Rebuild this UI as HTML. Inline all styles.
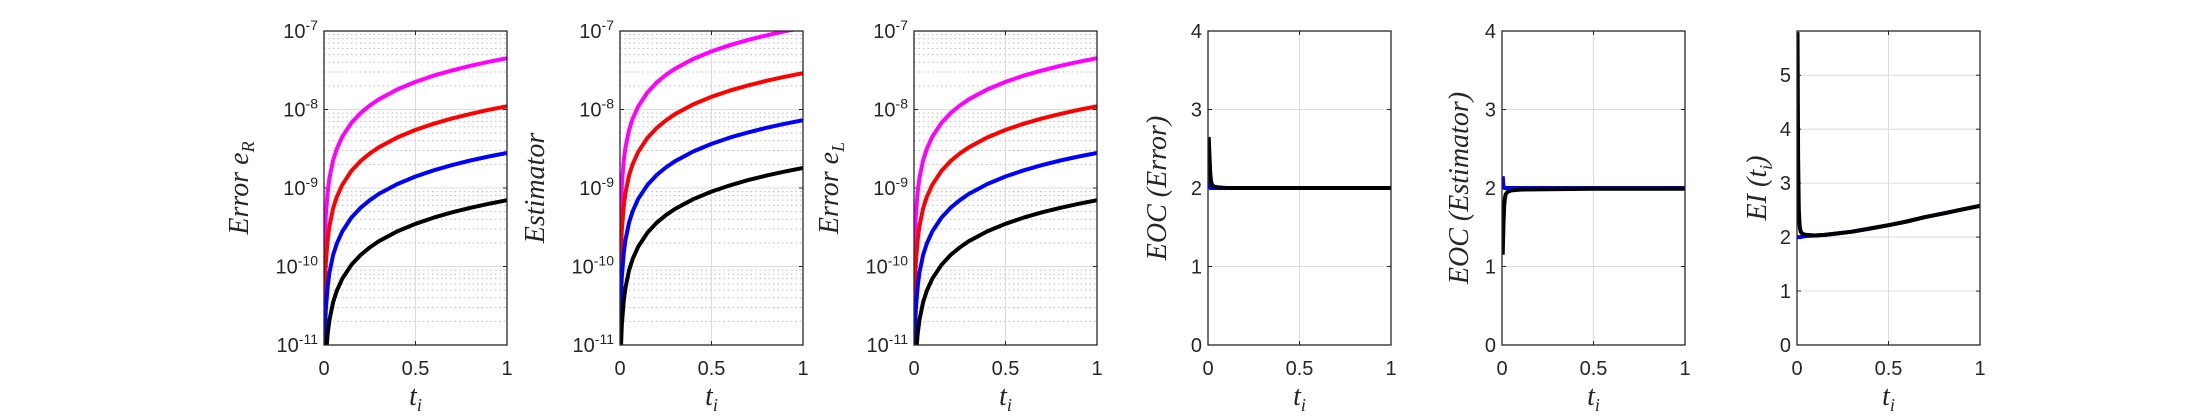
<!DOCTYPE html>
<html><head><meta charset="utf-8"><style>
html,body{margin:0;padding:0;background:#fff;}
svg{display:block;}
text{font-family:"Liberation Sans",Arial,sans-serif;fill:#262626;}
.lab{font-family:"Liberation Serif","DejaVu Serif",serif;font-style:italic;}
</style></head><body>
<svg id="fig" width="2187" height="417" xmlns="http://www.w3.org/2000/svg"></svg>
<script>
// ---- data ----
const tSamples = [0.002,0.005,0.01,0.02,0.03,0.05,0.07,0.1,0.15,0.2,0.25,0.3,0.4,0.5,0.6,0.7,0.8,0.9,1.0];
const seriesColors = ['#ff00ff','#ff0000','#0000ff','#000000'];
const errR = [
  [9e-11,2.25e-10,4.5e-10,9e-10,1.35e-9,2.25e-9,3.15e-9,4.5e-9,6.75e-9,9e-9,1.125e-8,1.35e-8,1.8e-8,2.25e-8,2.7e-8,3.15e-8,3.6e-8,4.05e-8,4.5e-8],
  [2.2e-11,5.5e-11,1.1e-10,2.2e-10,3.3e-10,5.5e-10,7.7e-10,1.1e-9,1.65e-9,2.2e-9,2.75e-9,3.3e-9,4.4e-9,5.5e-9,6.6e-9,7.7e-9,8.8e-9,9.9e-9,1.1e-8],
  [5.6e-12,1.4e-11,2.8e-11,5.6e-11,8.4e-11,1.4e-10,1.96e-10,2.8e-10,4.2e-10,5.6e-10,7e-10,8.4e-10,1.12e-9,1.4e-9,1.68e-9,1.96e-9,2.24e-9,2.52e-9,2.8e-9],
  [1.4e-12,3.5e-12,7e-12,1.4e-11,2.1e-11,3.5e-11,4.9e-11,7e-11,1.05e-10,1.4e-10,1.75e-10,2.1e-10,2.8e-10,3.5e-10,4.2e-10,4.9e-10,5.6e-10,6.3e-10,7e-10]];
const estim = [
  [2.2e-10,5.5e-10,1.1e-9,2.2e-9,3.3e-9,5.5e-9,7.7e-9,1.1e-8,1.65e-8,2.2e-8,2.75e-8,3.3e-8,4.4e-8,5.5e-8,6.6e-8,7.7e-8,8.8e-8,9.9e-8,1.1e-7],
  [5.8e-11,1.45e-10,2.9e-10,5.8e-10,8.7e-10,1.45e-9,2.03e-9,2.9e-9,4.35e-9,5.8e-9,7.25e-9,8.7e-9,1.16e-8,1.45e-8,1.74e-8,2.03e-8,2.32e-8,2.61e-8,2.9e-8],
  [1.46e-11,3.65e-11,7.3e-11,1.46e-10,2.19e-10,3.65e-10,5.11e-10,7.3e-10,1.095e-9,1.46e-9,1.825e-9,2.19e-9,2.92e-9,3.65e-9,4.38e-9,5.11e-9,5.84e-9,6.57e-9,7.3e-9],
  [3.6e-12,9e-12,1.8e-11,3.6e-11,5.4e-11,9e-11,1.26e-10,1.8e-10,2.7e-10,3.6e-10,4.5e-10,5.4e-10,7.2e-10,9e-10,1.08e-9,1.26e-9,1.44e-9,1.62e-9,1.8e-9]];
const errL = errR;
const eocT = [0.004,0.008,0.012,0.016,0.02,0.03,0.05,0.1,0.5,1.0];
const eocErrBlack = [2.65,2.4,2.2,2.1,2.05,2.02,2.01,2.0,2.0,2.0];
const eocErrBlue  = [2.15,2.03,2.0,2.0,2.0,2.0,2.0,2.0,2.0,2.0];
const eocEstBlack = [1.15,1.55,1.78,1.87,1.92,1.95,1.97,1.98,1.99,1.99];
const eocEstBlue  = [2.15,2.02,2.0,2.0,2.0,2.0,2.0,2.0,2.0,2.0];
const eiT = [0.003,0.006,0.01,0.015,0.02,0.03,0.05,0.1,0.15,0.2,0.3,0.4,0.5,0.6,0.7,0.8,0.9,1.0];
const eiBlack = [5.8,3.5,2.5,2.2,2.1,2.06,2.04,2.03,2.04,2.06,2.1,2.16,2.22,2.29,2.37,2.44,2.51,2.58];
const eiBlue  = [2.0,2.0,2.0,2.0,2.0,2.01,2.02,2.03,2.04,2.06,2.1,2.16,2.22,2.29,2.37,2.44,2.51,2.58];
const xTicks = [0,0.5,1];
const logTicks = [-11,-10,-9,-8,-7];
const eocTicks = [0,1,2,3,4];
const eiTicks = [0,1,2,3,4,5];

const NS='http://www.w3.org/2000/svg';
const fig=document.getElementById('fig');
function mk(tag,attrs,parent){const e=document.createElementNS(NS,tag);for(const k in attrs)e.setAttribute(k,attrs[k]);(parent||fig).appendChild(e);return e;}
const TOP=31,BOT=345,W=183;
const lefts=[324,620,914,1208,1502,1797];

function panel(i,opts){
  const L=lefts[i],R=L+W;
  const g=mk('g',{});
  
  
  const xs=v=>L+v*W;
  const ys=opts.log?(v=>BOT-(Math.log10(v)-opts.ymin)/(opts.ymax-opts.ymin)*(BOT-TOP))
                    :(v=>BOT-(v-opts.ymin)/(opts.ymax-opts.ymin)*(BOT-TOP));
  if(opts.log){
    for(let d=opts.ymin;d<opts.ymax;d++){
      for(let m=2;m<=9;m++){const y=ys(m*Math.pow(10,d));
        mk('line',{x1:L,x2:R,y1:y,y2:y,stroke:'#bbb','stroke-width':1,'stroke-dasharray':'1.5,3'},g);}
    }
  }
  opts.ticks.forEach(tv=>{const y=opts.log?ys(Math.pow(10,tv)):ys(tv);
    if(y>TOP+1&&y<BOT-1)mk('line',{x1:L,x2:R,y1:y,y2:y,stroke:'#dcdcdc','stroke-width':1},g);
    mk('line',{x1:L,x2:L+4,y1:y,y2:y,stroke:'#262626'},g);
    mk('line',{x1:R-4,x2:R,y1:y,y2:y,stroke:'#262626'},g);
    const t=mk('text',{x:L-6,y:y+7,'text-anchor':'end','font-size':20},g);
    
    
    if(opts.log){t.textContent='10';const s=mk('tspan',{dy:-8,'font-size':14},t);s.textContent=String(tv);}
    else t.textContent=String(tv);
  });
  xTicks.forEach(xv=>{const x=xs(xv);
    if(xv>0&&xv<1)mk('line',{x1:x,x2:x,y1:TOP,y2:BOT,stroke:'#dcdcdc'},g);
    mk('line',{x1:x,x2:x,y1:BOT-4,y2:BOT,stroke:'#262626'},g);
    mk('line',{x1:x,x2:x,y1:TOP,y2:TOP+4,stroke:'#262626'},g);
    const t=mk('text',{x:x,y:375,'text-anchor':'middle','font-size':20},g);
    
    
    t.textContent=String(xv);
  });
  const cp=mk('clipPath',{id:'c'+i},g);mk('rect',{x:L,y:TOP,width:W,height:BOT-TOP},cp);
  const sg=mk('g',{'clip-path':'url(#c'+i+')'},g);
  opts.series.forEach((s,k)=>{
    let d='';s.t.forEach((tv,j)=>{d+=(j?'L':'M')+xs(tv).toFixed(1)+','+ys(s.v[j]).toFixed(1);});
    if(opts.log) d='M'+xs(s.t[0]).toFixed(1)+','+(BOT+20)+'L'+d.slice(1);
    const p=mk('path',{d:d,fill:'none',stroke:s.c,'stroke-width':4,'stroke-linejoin':'round'},sg);
    
    
  });
  const ax=mk('rect',{x:L,y:TOP,width:W,height:BOT-TOP,fill:'none',stroke:'#262626','stroke-width':1.3},g);
  
  
  const xl=mk('text',{x:L+W/2,y:405,'text-anchor':'middle','font-size':28,class:'lab'},g);
  
  
  xl.textContent='t';const sub=mk('tspan',{dy:6,'font-size':18},xl);sub.textContent='i';
  const cx=L+opts.ylx;
  const yl=mk('text',{x:cx,y:(TOP+BOT)/2,'text-anchor':'middle','font-size':28,class:'lab',transform:'rotate(-90 '+cx+' '+(TOP+BOT)/2+')'},g);
  
  
  yl.textContent=opts.ylabel;
  if(opts.ysub){const s2=mk('tspan',{dy:6,'font-size':18},yl);s2.textContent=opts.ysub;}
}
function logSeries(arr){return arr.map((v,k)=>({t:tSamples,v:v,c:seriesColors[k]}));}
panel(0,{log:true,ymin:-11,ymax:-7,ticks:logTicks,series:logSeries(errR),ylabel:'Error e',ysub:'R',ylx:-76});
panel(1,{log:true,ymin:-11,ymax:-7,ticks:logTicks,series:logSeries(estim),ylabel:'Estimator',ylx:-76});
panel(2,{log:true,ymin:-11,ymax:-7,ticks:logTicks,series:logSeries(errL),ylabel:'Error e',ysub:'L',ylx:-76});
panel(3,{ymin:0,ymax:4,ticks:eocTicks,ylabel:'EOC (Error)',ylx:-42,series:[
  {t:eocT,v:eocErrBlue,c:'#0000ff'},{t:eocT,v:eocErrBlack,c:'#000000'}]});
panel(4,{ymin:0,ymax:4,ticks:eocTicks,ylabel:'EOC (Estimator)',ylx:-34,series:[
  {t:eocT,v:eocEstBlue,c:'#0000ff'},{t:eocT,v:eocEstBlack,c:'#000000'}]});
panel(5,{ymin:0,ymax:5.82,ticks:eiTicks,ylabel:'EI (t',ysub:'i',ylx:-31,series:[
  {t:eiT,v:eiBlue,c:'#0000ff'},{t:eiT,v:eiBlack,c:'#000000'}]});
(function(){const ts=fig.querySelectorAll('text.lab');const t=ts[ts.length-1];const c=mk('tspan',{dy:-6},t);c.textContent=')';})();
</script>
</body></html>
